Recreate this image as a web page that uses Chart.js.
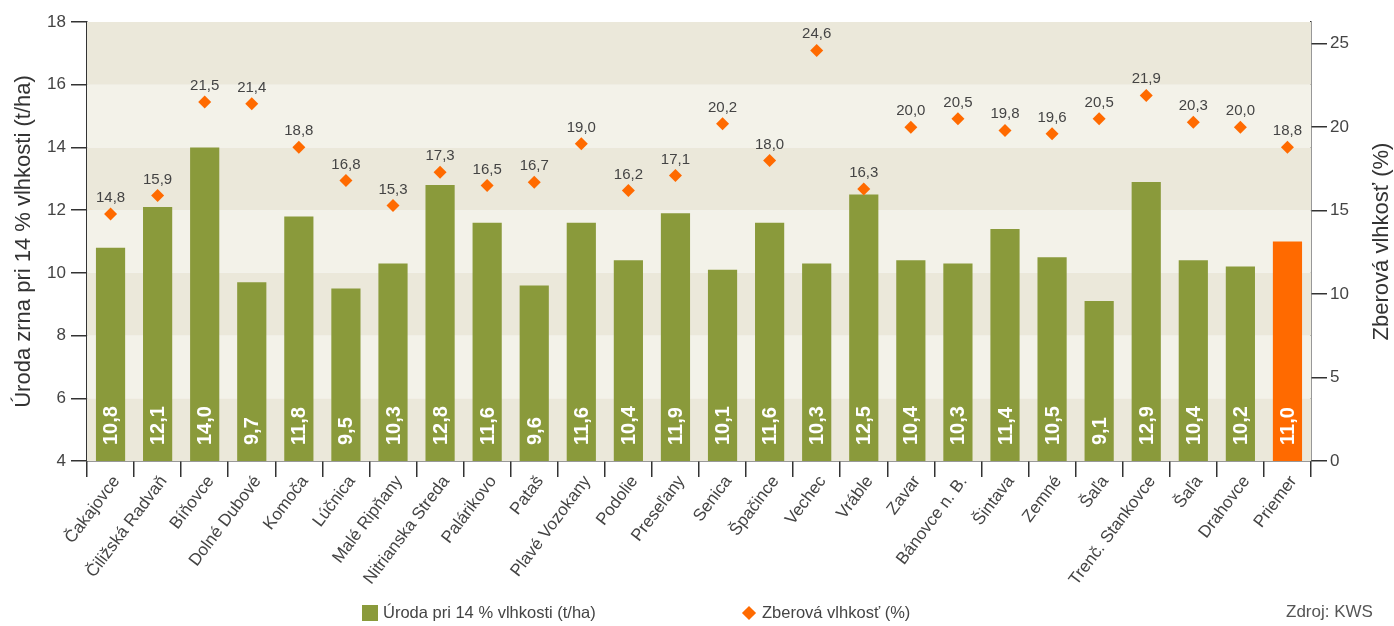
<!DOCTYPE html>
<html lang="sk">
<head>
<meta charset="utf-8">
<title>Úroda a zberová vlhkosť</title>
<script src="https://cdn.jsdelivr.net/npm/chart.js@4/dist/chart.umd.min.js"></script>
<style>
    body { margin: 0; background: #fff; font-family: "Liberation Sans", Arial, sans-serif; }
    #wrap { position: relative; width: 1394px; height: 626px; }
    .legenda { position: absolute; top: 603px; font-size: 16.5px; color: #444; display: flex; align-items: center; }
    .legenda .box { width: 16px; height: 16px; background: #8a9a3b; margin-right: 5px; }
    .legenda .diam { width: 10px; height: 10px; background: #ff6a00; transform: rotate(45deg); margin: 0 8px 0 3px; }
    #zdroj { position: absolute; top: 602px; left: 1286px; font-size: 17px; color: #555; }
</style>
</head>
<body>
<div id="wrap">
    <canvas id="graf" width="1394" height="626"></canvas>
    <div class="legenda" style="left:362px"><span class="box"></span>Úroda pri 14 % vlhkosti (t/ha)</div>
    <div class="legenda" style="left:741px"><span class="diam"></span>Zberová vlhkosť (%)</div>
    <div id="zdroj">Zdroj: KWS</div>
</div>
<script>
// ===================== DÁTA =====================
const lokality = [
    "Čakajovce", "Čiližská Radvaň", "Bíňovce", "Dolné Dubové", "Komoča", "Lúčnica",
    "Malé Ripňany", "Nitrianska Streda", "Palárikovo", "Pataš", "Plavé Vozokany", "Podolie",
    "Preseľany", "Senica", "Špačince", "Vechec", "Vráble", "Zavar", "Bánovce n. B.",
    "Šintava", "Zemné", "Šaľa", "Trenč. Stankovce", "Šaľa", "Drahovce", "Priemer"
];
const uroda = [10.8, 12.1, 14.0, 9.7, 11.8, 9.5, 10.3, 12.8, 11.6, 9.6, 11.6, 10.4, 11.9,
    10.1, 11.6, 10.3, 12.5, 10.4, 10.3, 11.4, 10.5, 9.1, 12.9, 10.4, 10.2, 11.0];
const vlhkost = [14.8, 15.9, 21.5, 21.4, 18.8, 16.8, 15.3, 17.3, 16.5, 16.7, 19.0, 16.2, 17.1,
    20.2, 18.0, 24.6, 16.3, 20.0, 20.5, 19.8, 19.6, 20.5, 21.9, 20.3, 20.0, 18.8];
const pasma = [4, 6, 8, 10, 12, 14, 16, 18];

// ===================== FARBY =====================
const zelena = '#8a9a3b';
const oranzova = '#ff6a00';
const tmavePasmo = '#ebe8da';
const svetlePasmo = '#f3f2e9';
const textFarba = '#444';
const osFarba = '#333';

const fmt = v => v.toFixed(1).replace('.', ',');

// ===================== PLUGINY =====================
// pásy na pozadí podľa ľavej osi
const pozadie = {
    id: 'pozadie',
    beforeDatasetsDraw(chart) {
        const { ctx, chartArea, scales } = chart;
        ctx.save();
        for (let i = 0; i < pasma.length - 1; i++) {
            const y1 = scales.y.getPixelForValue(pasma[i + 1]);
            const y0 = scales.y.getPixelForValue(pasma[i]);
            ctx.fillStyle = i % 2 === 0 ? tmavePasmo : svetlePasmo;
            ctx.fillRect(chartArea.left, y1, chartArea.right - chartArea.left, y0 - y1);
        }
        ctx.restore();
    }
};

// hodnoty v stĺpcoch a nad bodmi
const popisky = {
    id: 'popisky',
    afterDatasetsDraw(chart) {
        const { ctx, chartArea } = chart;
        ctx.save();
        chart.getDatasetMeta(0).data.forEach((bar, i) => {
            ctx.save();
            ctx.translate(bar.x, chartArea.bottom - 16);
            ctx.rotate(-Math.PI / 2);
            ctx.fillStyle = '#fff';
            ctx.font = 'bold 20px "Liberation Sans", Arial, sans-serif';
            ctx.textAlign = 'left';
            ctx.textBaseline = 'middle';
            ctx.fillText(fmt(uroda[i]), 0, 1);
            ctx.restore();
        });
        ctx.fillStyle = textFarba;
        ctx.font = '15px "Liberation Sans", Arial, sans-serif';
        ctx.textAlign = 'center';
        ctx.textBaseline = 'alphabetic';
        chart.getDatasetMeta(1).data.forEach((pt, i) => {
            ctx.fillText(fmt(vlhkost[i]), pt.x, pt.y - 12);
        });
        // názov pravej osi (čítaný zdola nahor)
        ctx.translate(1382, (chartArea.top + chartArea.bottom) / 2);
        ctx.rotate(-Math.PI / 2);
        ctx.font = '22px "Liberation Sans", Arial, sans-serif';
        ctx.fillStyle = osFarba;
        ctx.textBaseline = 'middle';
        ctx.fillText('Zberová vlhkosť (%)', 0, 0);
        ctx.restore();
    }
};

// ===================== GRAF =====================
const pismo = { family: '"Liberation Sans", Arial, sans-serif', size: 17 };

new Chart(document.getElementById('graf'), {
    data: {
        labels: lokality,
        datasets: [
            {
                type: 'bar',
                label: 'Úroda pri 14 % vlhkosti (t/ha)',
                data: uroda,
                yAxisID: 'y',
                backgroundColor: uroda.map((v, i) => i === uroda.length - 1 ? oranzova : zelena),
                barPercentage: 0.62,
                categoryPercentage: 1,
                order: 1
            },
            {
                type: 'line',
                label: 'Zberová vlhkosť (%)',
                data: vlhkost,
                yAxisID: 'y1',
                showLine: false,
                pointStyle: 'rectRot',
                pointRadius: 6.5,
                pointBackgroundColor: oranzova,
                pointBorderWidth: 0,
                order: 0
            }
        ]
    },
    options: {
        responsive: false,
        animation: false,
        devicePixelRatio: 1,
        layout: { padding: { top: 22, left: 0, right: 0, bottom: 0 } },
        plugins: {
            legend: { display: false },
            tooltip: { enabled: false }
        },
        scales: {
            x: {
                grid: { offset: true, drawOnChartArea: false, tickLength: 16, color: osFarba, lineWidth: 1.5 },
                border: { color: osFarba, width: 1.5 },
                ticks: { color: textFarba, font: pismo, minRotation: 53, maxRotation: 53, padding: -5, labelOffset: 6, autoSkip: false },
                afterFit: s => { s.height = 165; }
            },
            y: {
                position: 'left',
                min: 4, max: 18,
                grid: { drawOnChartArea: false, tickLength: 16, color: osFarba, lineWidth: 1.5 },
                border: { color: osFarba, width: 1.5 },
                ticks: { stepSize: 2, color: textFarba, font: pismo, padding: 5 },
                title: {
                    display: true, text: 'Úroda zrna pri 14 % vlhkosti (t/ha)', color: osFarba,
                    font: { family: pismo.family, size: 22, lineHeight: 1 }, padding: { top: 13 }
                },
                afterFit: s => { s.width = 87; }
            },
            y1: {
                position: 'right',
                min: 0, max: 26.3,
                grid: { drawOnChartArea: false, tickLength: 16, color: osFarba, lineWidth: 1.5 },
                border: { color: osFarba, width: 1.5 },
                ticks: { stepSize: 5, color: textFarba, font: pismo, padding: 3 },
                afterBuildTicks: s => { s.ticks = s.ticks.filter(t => t.value % 5 === 0); },
                afterFit: s => { s.width = 83; }
            }
        }
    },
    plugins: [pozadie, popisky]
});
</script>
</body>
</html>
